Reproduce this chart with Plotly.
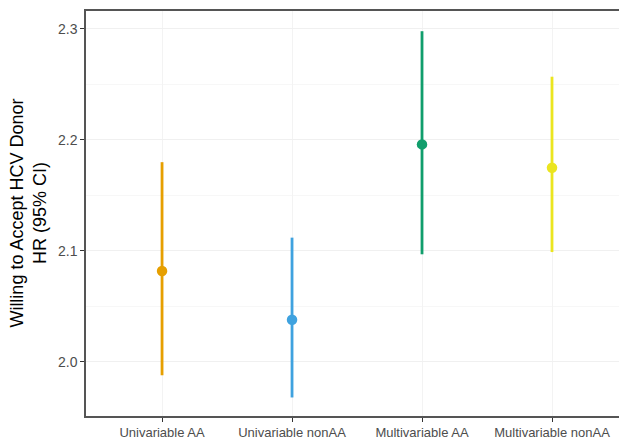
import plotly.graph_objects as go

categories = ["Univariable AA", "Univariable nonAA", "Multivariable AA", "Multivariable nonAA"]
hr = [2.082, 2.038, 2.196, 2.175]
ci_low = [1.988, 1.968, 2.097, 2.099]
ci_high = [2.180, 2.112, 2.298, 2.257]
colors = ["#E69F00", "#3FA2DF", "#119E6C", "#EBE51F"]
ytick_vals = [2.0, 2.1, 2.2, 2.3]

fig = go.Figure()
for i, c in enumerate(categories):
    fig.add_trace(go.Scatter(
        x=[i + 1], y=[hr[i]], mode="markers",
        marker=dict(color=colors[i], size=10.5),
        error_y=dict(type="data", symmetric=False,
                     array=[ci_high[i] - hr[i]], arrayminus=[hr[i] - ci_low[i]],
                     color=colors[i], thickness=2.8, width=0),
        showlegend=False, hoverinfo="skip"))

# page has an 8px body margin, so the figure is sized to fit the 627x439 window
fig.update_layout(
    width=619, height=431,
    margin=dict(l=78, r=0, t=3, b=23),
    plot_bgcolor="white", paper_bgcolor="white",
    font=dict(family="Liberation Sans, Arial, sans-serif"),
)
fig.update_xaxes(
    automargin=False,
    range=[0.415, 4.577],
    tickmode="array", tickvals=[1, 2, 3, 4], ticktext=categories,
    tickfont=dict(size=13, color="#4d4d4d"),
    ticks="outside", ticklen=4, tickcolor="#333333",
    showline=True, linecolor="#555555", linewidth=1.5, mirror=True,
    showgrid=True, gridcolor="#f3f3f3", zeroline=False,
)
fig.update_yaxes(
    automargin=False,
    range=[1.9513, 2.3162],
    tickmode="array", tickvals=ytick_vals, ticktext=["2.0", "2.1", "2.2", "2.3"],
    tickfont=dict(size=14, color="#4d4d4d"),
    ticks="outside", ticklen=4, tickcolor="#333333",
    showline=True, linecolor="#555555", linewidth=1.5,
    showgrid=True, gridcolor="#f0f0f0", zeroline=False,
    minor=dict(showgrid=True, gridcolor="#f7f7f7", dtick=0.05, tick0=2.0),
)
fig.add_annotation(
    text="Willing to Accept HCV Donor<br>HR (95% CI)",
    xref="paper", yref="paper", x=-0.107, y=0.5, xanchor="center", yanchor="middle",
    textangle=-90, showarrow=False, font=dict(size=18, color="black"),
)

fig.write_html("out.html")
